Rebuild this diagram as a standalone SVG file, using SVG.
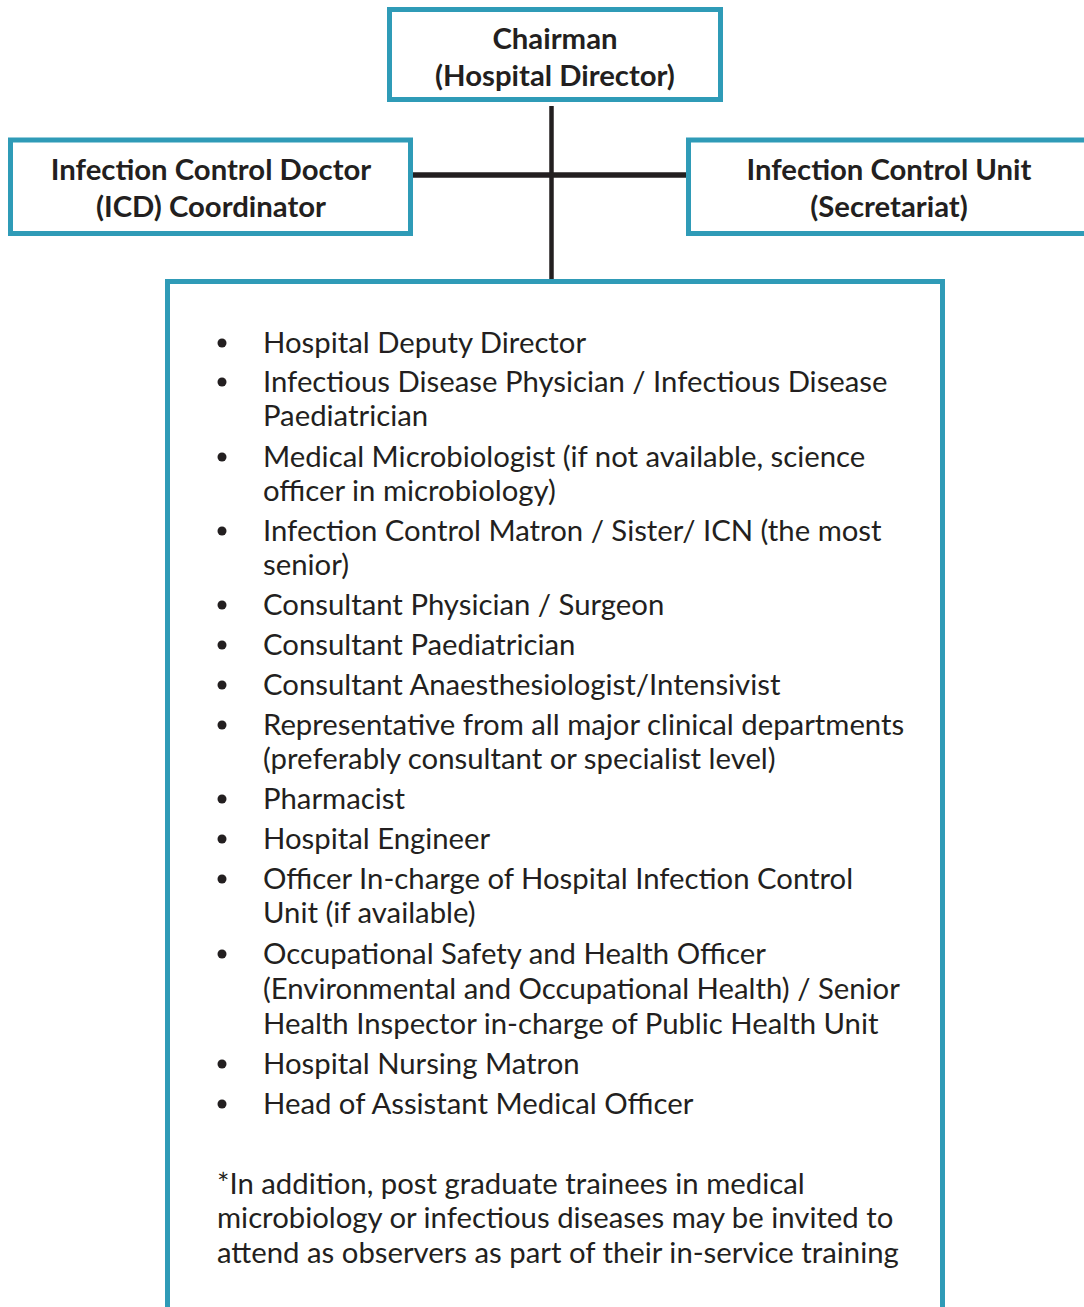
<svg xmlns="http://www.w3.org/2000/svg" width="1084" height="1307" viewBox="0 0 1084 1307">
<style>
.box{fill:#fff;stroke:#2F9BB7;stroke-width:5}
.conn{stroke:#231F20;fill:none}
.t{font-family:Lato,"Open Sans","Liberation Sans",sans-serif;fill:#231F20}
.h{font-size:29.3px;font-weight:700;text-anchor:middle}
.li{font-size:29.3px;font-weight:400}
.b{fill:#231F20}
</style>
<rect width="1084" height="1307" fill="#fff"/>
<g id="connectors">
<line class="conn" x1="551.5" y1="106" x2="551.5" y2="281" stroke-width="4.5"/>
<line class="conn" x1="411" y1="175" x2="688" y2="175" stroke-width="5.5"/>
</g>
<g id="chairman">
<rect class="box" x="389.5" y="9.5" width="331" height="90"/>
<text class="t h" x="555" y="49">Chairman</text>
<text class="t h" x="555" y="86">(Hospital Director)</text>
</g>
<g id="icd">
<rect class="box" x="10.5" y="140" width="400" height="93.5"/>
<text class="t h" x="211" y="180">Infection Control Doctor</text>
<text class="t h" x="211" y="217">(ICD) Coordinator</text>
</g>
<g id="icu">
<rect class="box" x="688.5" y="140" width="410" height="93.5"/>
<text class="t h" x="889" y="180">Infection Control Unit</text>
<text class="t h" x="889" y="217">(Secretariat)</text>
</g>
<g id="members">
<path class="box" d="M167.5,1312 V281.5 H942.5 V1312"/>
<g class="b">
<circle cx="222" cy="343" r="4.5"/>
<circle cx="222" cy="382" r="4.5"/>
<circle cx="222" cy="457" r="4.5"/>
<circle cx="222" cy="531" r="4.5"/>
<circle cx="222" cy="605" r="4.5"/>
<circle cx="222" cy="645" r="4.5"/>
<circle cx="222" cy="685" r="4.5"/>
<circle cx="222" cy="725" r="4.5"/>
<circle cx="222" cy="799" r="4.5"/>
<circle cx="222" cy="839" r="4.5"/>
<circle cx="222" cy="879" r="4.5"/>
<circle cx="222" cy="954" r="4.5"/>
<circle cx="222" cy="1064" r="4.5"/>
<circle cx="222" cy="1104" r="4.5"/>
</g>
<g class="t li">
<text x="263" y="353">Hospital Deputy Director</text>
<text x="263" y="392">Infectious Disease Physician / Infectious Disease</text>
<text x="263" y="426">Paediatrician</text>
<text x="263" y="467">Medical Microbiologist (if not available, science</text>
<text x="263" y="501">officer in microbiology)</text>
<text x="263" y="541">Infection Control Matron / Sister/ ICN (the most</text>
<text x="263" y="575">senior)</text>
<text x="263" y="615">Consultant Physician / Surgeon</text>
<text x="263" y="655">Consultant Paediatrician</text>
<text x="263" y="695">Consultant Anaesthesiologist/Intensivist</text>
<text x="263" y="735">Representative from all major clinical departments</text>
<text x="263" y="769">(preferably consultant or specialist level)</text>
<text x="263" y="809">Pharmacist</text>
<text x="263" y="849">Hospital Engineer</text>
<text x="263" y="889">Officer In-charge of Hospital Infection Control</text>
<text x="263" y="923">Unit (if available)</text>
<text x="263" y="964">Occupational Safety and Health Officer</text>
<text x="263" y="999">(Environmental and Occupational Health) / Senior</text>
<text x="263" y="1034">Health Inspector in-charge of Public Health Unit</text>
<text x="263" y="1074">Hospital Nursing Matron</text>
<text x="263" y="1114">Head of Assistant Medical Officer</text>
<text x="217" y="1194">*In addition, post graduate trainees in medical</text>
<text x="217" y="1228">microbiology or infectious diseases may be invited to</text>
<text x="217" y="1263">attend as observers as part of their in-service training</text>
</g>
</g>
</svg>
